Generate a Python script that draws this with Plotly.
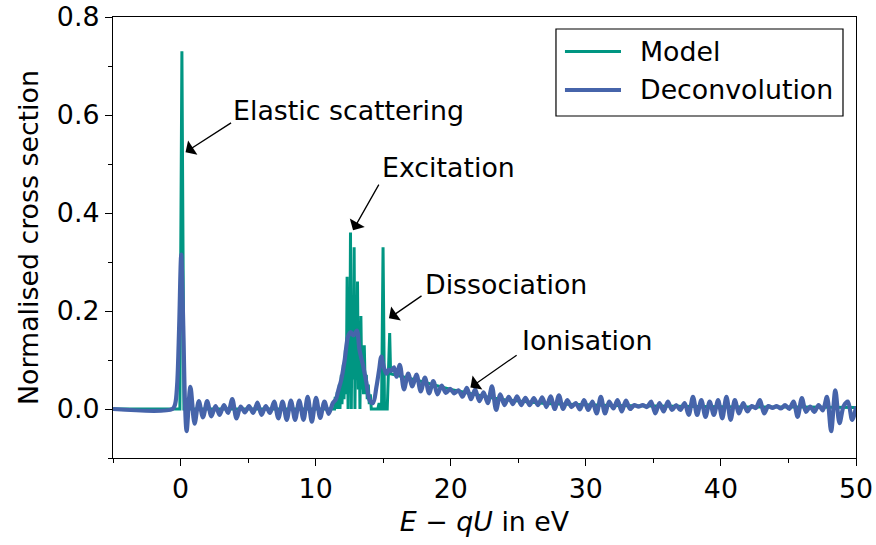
import plotly.graph_objects as go

# ---------------- data ----------------
# Model (green)
model_x_elastic = [-5.0, -0.05, 0.1, 0.25, 11.3]
model_y_elastic = [0.0, 0.0, 0.73, 0.0, 0.0]

model_x_excit = [11.4, 11.45, 11.5, 11.6, 11.65, 11.75, 11.8, 11.9, 11.95, 12.05, 12.1, 12.2, 12.27,
                 12.33, 12.4, 12.45, 12.52, 12.58, 12.64, 12.7, 12.78, 12.85, 12.91, 12.97, 13.04,
                 13.1, 13.16, 13.22, 13.28, 13.35, 13.42, 13.48, 13.54, 13.6, 13.68, 13.75, 13.82,
                 13.9, 13.97, 14.05, 14.12, 14.6, 14.7, 14.78, 14.88, 14.99, 15.1, 15.3, 15.48, 15.55]
model_y_excit = [0.0, 0.025, 0.0, 0.035, 0.0, 0.05, 0.0, 0.07, 0.01, 0.09, 0.02, 0.12, 0.03,
                 0.27, 0.0, 0.15, 0.05, 0.36, 0.0, 0.2, 0.06, 0.33, 0.0, 0.18, 0.06,
                 0.26, 0.04, 0.15, 0.0, 0.19, 0.04, 0.10, 0.03, 0.13, 0.03, 0.07, 0.02,
                 0.05, 0.01, 0.03, 0.0, 0.0, 0.012, 0.0, 0.0, 0.33, 0.0, 0.0, 0.155, 0.072]

model_x_ion = [16.0, 16.5, 17.0, 17.5, 18.0, 18.5, 19.0, 19.5, 20.0, 21.0, 22.0, 23.0, 24.0,
               25.0, 26.0, 27.0, 28.0, 30.0, 32.0, 35.0, 38.0, 42.0, 46.0, 50.0]
model_y_ion = [0.069, 0.066, 0.062, 0.058, 0.055, 0.051, 0.047, 0.043, 0.040, 0.034, 0.028, 0.023, 0.019,
               0.016, 0.013, 0.011, 0.010, 0.008, 0.007, 0.006, 0.005, 0.004, 0.004, 0.003]

# Deconvolution (blue)
dec_x_peak = [-5.0, -0.6, -0.4, -0.25, -0.1, 0.05, 0.2, 0.32, 0.45]
dec_y_peak = [0.0, 0.0, 0.01, 0.05, 0.17, 0.315, 0.17, 0.02, -0.045]

dec_x_low = [0.73, 1.04, 1.35, 1.66, 1.97, 2.28, 2.59, 2.90, 3.21, 3.52,
             3.83, 4.14, 4.45, 4.76, 5.07, 5.38, 5.69, 6.00, 6.31, 6.62,
             6.93, 7.24, 7.55, 7.86, 8.17, 8.48, 8.79, 9.10, 9.41, 9.72,
             10.03, 10.34, 10.65, 10.96, 11.27]
dec_y_low = [0.045, -0.030, 0.016, -0.017, 0.016, -0.015, 0.006, -0.012, 0.008, -0.008,
             0.020, -0.019, 0.005, -0.007, 0.006, -0.008, 0.013, -0.012, 0.006, -0.008,
             0.015, -0.019, 0.015, -0.022, 0.017, -0.022, 0.017, -0.022, 0.025, -0.026,
             0.023, -0.018, 0.015, -0.010, 0.012]

dec_x_excit = [11.5, 11.7, 11.9, 12.15, 12.4, 12.6, 12.8, 13.05, 13.25, 13.5,
               13.75, 14.0, 14.25, 14.5, 14.7, 14.86, 15.05, 15.24, 15.42, 15.6,
               15.8, 15.98]
dec_y_excit = [0.02, 0.04, 0.06, 0.10, 0.148, 0.157, 0.15, 0.16, 0.12, 0.09,
               0.055, 0.018, 0.012, 0.045, 0.08, 0.107, 0.085, 0.072, 0.08, 0.078,
               0.085, 0.066]

dec_x_ion = [16.23, 16.54, 16.85, 17.16, 17.47, 17.78, 18.09, 18.40, 18.71, 19.02,
             19.33, 19.64, 19.95, 20.26, 20.57, 20.88, 21.19, 21.50, 21.81, 22.12,
             22.43, 22.74, 23.05, 23.36, 23.67, 23.98, 24.29, 24.60, 24.91, 25.22,
             25.53, 25.84, 26.15, 26.46, 26.77, 27.08, 27.39, 27.70, 28.01, 28.32,
             28.63, 28.94, 29.25, 29.56, 29.87, 30.18, 30.49, 30.80, 31.11, 31.42,
             31.73, 32.04, 32.35, 32.66, 32.97, 33.28, 33.59, 33.90, 34.21, 34.52,
             34.83, 35.14, 35.45, 35.76, 36.07, 36.38, 36.69, 37.00, 37.31, 37.62,
             37.93, 38.24, 38.55, 38.86, 39.17, 39.48, 39.79, 40.10, 40.41, 40.72,
             41.03, 41.34, 41.65, 41.96, 42.27, 42.58, 42.89, 43.20, 43.51, 43.82,
             44.13, 44.44, 44.75, 45.06, 45.37, 45.68, 45.99, 46.30, 46.61, 46.92,
             47.23, 47.54, 47.85, 48.16, 48.47, 48.78, 49.09, 49.40, 49.71, 50.02]
dec_y_ion = [0.090, 0.040, 0.072, 0.046, 0.070, 0.036, 0.064, 0.032, 0.057, 0.030,
             0.048, 0.033, 0.041, 0.032, 0.038, 0.025, 0.043, 0.020, 0.040, 0.016,
             0.034, 0.012, 0.046, -0.002, 0.030, 0.008, 0.025, 0.010, 0.026, 0.008,
             0.023, 0.008, 0.022, 0.008, 0.024, 0.004, 0.026, 0.000, 0.028, 0.000,
             0.018, 0.004, 0.012, -0.001, 0.018, -0.002, 0.015, -0.009, 0.025, -0.009,
             0.015, 0.001, 0.018, -0.005, 0.017, 0.000, 0.008, 0.005, 0.008, 0.004,
             0.015, -0.009, 0.012, -0.005, 0.015, -0.002, 0.008, -0.002, 0.012, -0.012,
             0.025, -0.012, 0.018, -0.016, 0.015, -0.012, 0.018, -0.019, 0.025, -0.022,
             0.018, -0.009, 0.012, -0.005, 0.006, 0.002, 0.018, -0.009, 0.006, 0.002,
             0.006, 0.001, 0.008, 0.000, 0.015, -0.016, 0.022, -0.006, 0.005, -0.006,
             0.008, -0.003, 0.025, -0.045, 0.038, -0.029, 0.006, 0.015, -0.022, 0.005]

series_names = ["Model", "Deconvolution"]
series_colors = ["#009682", "#4664AA"]
series_widths = [3, 4.2]

ann_labels = ["Elastic scattering", "Excitation", "Dissociation", "Ionisation"]
ann_tips = [(0.37, 0.524), (12.77, 0.365), (15.43, 0.185), (21.46, 0.044)]
ann_tails = [(3.85, 0.586), (14.74, 0.461), (17.95, 0.233), (24.99, 0.112)]
ann_text_pos = [(3.71, 0.610), (14.74, 0.492), (17.98, 0.255), (25.12, 0.139)]

model_x = model_x_elastic + model_x_excit + model_x_ion
model_y = model_y_elastic + model_y_excit + model_y_ion
dec_x = dec_x_peak + dec_x_low + dec_x_excit + dec_x_ion
dec_y = dec_y_peak + dec_y_low + dec_y_excit + dec_y_ion

FONT = "DejaVu Sans"
FS = 26.8

fig = go.Figure()
fig.add_trace(go.Scatter(x=model_x, y=model_y, mode="lines", name=series_names[0], showlegend=False,
                         line=dict(color=series_colors[0], width=series_widths[0])))
fig.add_trace(go.Scatter(x=dec_x, y=dec_y, mode="lines", name=series_names[1], showlegend=False,
                         line=dict(color=series_colors[1], width=series_widths[1],
                                   shape="spline", smoothing=0.9)))

annotations = []
for lab, tip, tail, tp in zip(ann_labels, ann_tips, ann_tails, ann_text_pos):
    annotations.append(dict(x=tip[0], y=tip[1], ax=tail[0], ay=tail[1], xref="x", yref="y",
                            axref="x", ayref="y", text="", showarrow=True, arrowhead=1,
                            arrowsize=2.2, arrowwidth=1.3, arrowcolor="black"))
    annotations.append(dict(x=tp[0], y=tp[1], xref="x", yref="y", text=lab, showarrow=False,
                            xanchor="left", yanchor="middle",
                            font=dict(family=FONT, size=FS, color="black")))

# custom legend (paper coordinates of the plot area)
shapes = [dict(type="rect", xref="paper", yref="paper", x0=0.5962, x1=0.9825, y0=0.7755, y1=0.9728,
               line=dict(color="black", width=1.2), fillcolor="white", layer="above")]
leg_rows = [0.9218, 0.8345]
for name, col, w, yr in zip(series_names, series_colors, series_widths, leg_rows):
    shapes.append(dict(type="line", xref="paper", yref="paper", x0=0.6083, x1=0.6837, y0=yr, y1=yr,
                       line=dict(color=col, width=w), layer="above"))
    annotations.append(dict(x=0.7066, y=yr, xref="paper", yref="paper", text=name, showarrow=False,
                            xanchor="left", yanchor="middle",
                            font=dict(family=FONT, size=FS, color="black")))

axis_common = dict(showline=True, linecolor="black", linewidth=1.3, mirror=True, showgrid=False,
                   zeroline=False, ticks="outside", ticklen=7, tickwidth=1.3, tickcolor="black",
                   automargin=False,
                   tickfont=dict(family=FONT, size=FS, color="black"))

fig.update_layout(
    width=876, height=545,
    margin=dict(l=113, r=20, t=17, b=87),
    paper_bgcolor="white", plot_bgcolor="white",
    font=dict(family=FONT, size=FS, color="black"),
    xaxis=dict(range=[-5, 50], tick0=0, dtick=10,
               minor=dict(dtick=5, tick0=0, ticks="outside", ticklen=4, tickwidth=1, tickcolor="black"),
               title=dict(text="<i>E</i> − <i>qU</i> in eV", font=dict(family=FONT, size=FS), standoff=8),
               **axis_common),
    yaxis=dict(range=[-0.1, 0.8], tick0=0, dtick=0.2, tickformat=".1f",
               minor=dict(dtick=0.1, tick0=0, ticks="outside", ticklen=4, tickwidth=1, tickcolor="black"),
               title=dict(text="Normalised cross section", font=dict(family=FONT, size=FS), standoff=10),
               **axis_common),
    annotations=annotations,
    shapes=shapes,
    showlegend=False,
)

fig.write_html("out.html")
